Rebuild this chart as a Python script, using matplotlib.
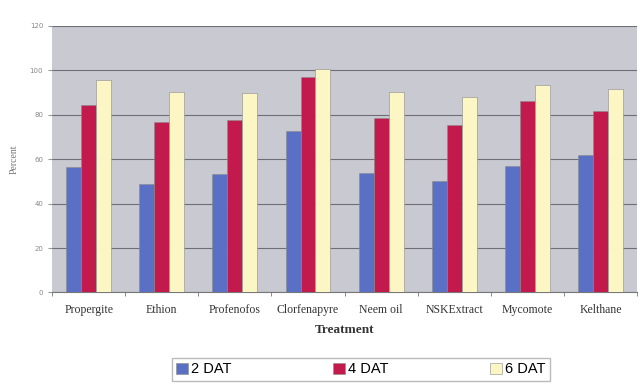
import numpy as np
import matplotlib.pyplot as plt

# treatments and % values
treatments = ['Propergite', 'Ethion', 'Profenofos', 'Clorfenapyre',
              'Neem oil', 'NSKExtract', 'Mycomote', 'Kelthane']
dat2 = [56.5, 49, 53.5, 72.8, 53.8, 50.3, 56.7, 62]
dat4 = [84.5, 76.5, 77.7, 96.8, 78.5, 75.2, 86, 81.5]
dat6 = [95.6, 90.3, 90, 100.5, 90.2, 88, 93.3, 91.8]
series_names = ['2 DAT', '4 DAT', '6 DAT']
colors = ['#5a70c4', '#c21a4c', '#fbf6c4']

fig = plt.figure(figsize=(6.44, 3.92), dpi=100)
ax = fig.add_axes([0.081, 0.254, 0.908, 0.680])
ax.set_facecolor('#c9c9d1')

x = np.arange(len(treatments))
w = 0.205
for i, (vals, name, c) in enumerate(zip([dat2, dat4, dat6], series_names, colors)):
    ax.bar(x + (i - 1) * w, vals, w, color=c, edgecolor='#8a8a8a', linewidth=0.4,
           label=name, zorder=3)

ax.set_xlim(-0.5, len(treatments) - 0.5)
ax.set_ylim(0, 120)
ax.set_yticks(range(0, 121, 20))
ax.yaxis.grid(True, color='#6e6e78', linewidth=0.8, zorder=0)
ax.set_xticks(x)
ax.set_xticklabels(treatments, family='Liberation Serif', fontsize=8.5, color='#333333')
ax.set_xticks(np.arange(-0.5, len(treatments)), minor=True)
ax.tick_params(axis='x', which='major', length=0, pad=8)
ax.tick_params(axis='x', which='minor', length=3, color='#777777')
ax.tick_params(axis='y', labelsize=5, labelcolor='#888888', length=3, color='#999999')
for s in ['top', 'right', 'left']:
    ax.spines[s].set_visible(False)
ax.spines['bottom'].set_color('#777777')

ax.set_xlabel('Treatment', family='Liberation Serif', fontsize=9.5, fontweight='bold',
              color='#333333', labelpad=6)
ax.set_ylabel('Percent', family='Liberation Serif', fontsize=7, color='#777777', labelpad=8)

fig.legend(loc='lower center', bbox_to_anchor=(0.56, 0.01), ncol=3, frameon=True,
           fancybox=False, edgecolor='#aaaaaa', prop={'family': 'Liberation Sans', 'size': 10.5},
           handlelength=0.8, handleheight=0.8, handletextpad=0.2, columnspacing=7,
           borderpad=0.3)

plt.savefig('out.png')
